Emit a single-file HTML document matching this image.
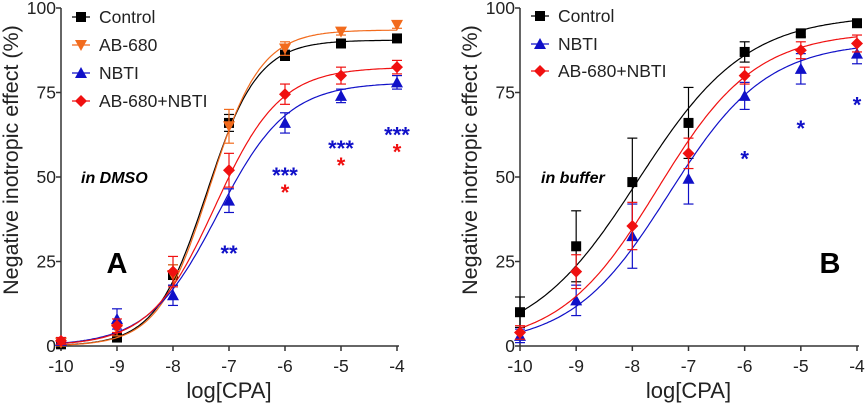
<!DOCTYPE html>
<html><head><meta charset="utf-8"><style>
html,body{margin:0;padding:0;background:#fff}
svg{display:block;font-family:"Liberation Sans",Arial,sans-serif}
</style></head><body>
<svg id="chart" width="865" height="405" viewBox="0 0 865 405"></svg>
<script>
const xTicks=[-10,-9,-8,-7,-6,-5,-4];
const yTicks=[0,25,50,75,100];
const doses=[-10,-9,-8,-7,-6,-5,-4];
// Panel A
const aControl=[0.5,2.5,21,66,86,89.5,91];
const aControlErr=[1,1,3,2.5,1.5,1,1];
const aAB=[1,5,21,65,88,93,95];
const aABErr=[1,2,3,5,2,1,1];
const aNBTI=[1.5,8,15,43,66,74,78];
const aNBTIErr=[1,3,3,3.5,3,2,2];
const aCombo=[1.5,6,22,52,74.5,80,82.5];
const aComboErr=[1,2,4.5,5,3,2.5,2];
// fit params: [top, logEC50, hill]
const aFitControl=[90.5,-7.4,0.95];
const aFitAB=[93.5,-7.35,0.95];
const aFitNBTI=[78,-7.2,0.7];
const aFitCombo=[82.5,-7.25,0.75];
// Panel B
const bControl=[10,29.5,48.5,66,87,92.5,95.5];
const bControlErr=[4.5,10.5,13,10.5,3,1,1];
const bNBTI=[3,13.5,32.5,49.5,74,82,86.5];
const bNBTIErr=[2,4.5,9.5,7.5,4,4.5,3];
const bCombo=[4,22,35.5,57,80,87.5,89.5];
const bComboErr=[2,5,7,4.5,2.5,2.5,2.5];
const bFitControl=[98,-7.9,0.45];
const bFitNBTI=[90,-7.35,0.5];
const bFitCombo=[93,-7.55,0.5];
// significance marks
const aStarX=[-7,-6,-5,-4];
const aStarBlue=["**","***","***","***"];
const aStarBlueY=[29,52,60,64];
const aStarRed=["","*","*","*"];
const aStarRedY=[0,47,55,59];
const bStarX=[-6,-5,-4];
const bStarBlueY=[57,66,73];

const NS="http://www.w3.org/2000/svg";
const svg=document.getElementById('chart');
function mk(tag,attrs,parent){const e=document.createElementNS(NS,tag);for(const k in attrs)e.setAttribute(k,attrs[k]);(parent||svg).appendChild(e);return e;}

function panel(x0,x1,name){
  const y0=346,y1=8;
  const sx=v=>x0+(v+10)/6*(x1-x0);
  const sy=v=>y0-v/100*(y0-y1);
  const g=mk('g',{});
  
  
  const ax=mk('line',{x1:x0,y1:y1,x2:x0,y2:y0,stroke:'#333','stroke-width':1.5},g);
  
  const bx=mk('line',{x1:x0,y1:y0,x2:x1+2,y2:y0,stroke:'#333','stroke-width':1.5},g);
  
  yTicks.forEach(t=>{
    mk('line',{x1:x0-5,x2:x0,y1:sy(t),y2:sy(t),stroke:'#333','stroke-width':1.5},g);
    const tx=mk('text',{x:x0-5,y:sy(t)+6,'text-anchor':'end','font-size':17.5,fill:'#222'},g);
    tx.textContent=t;
    
  });
  xTicks.forEach(t=>{
    mk('line',{x1:sx(t),x2:sx(t),y1:y0,y2:y0+5,stroke:'#333','stroke-width':1.5},g);
    const tx=mk('text',{x:sx(t),y:372,'text-anchor':'middle','font-size':17.5,fill:'#222'},g);
    tx.textContent=t;
    
  });
  const xl=mk('text',{x:(x0+x1)/2,y:398,'text-anchor':'middle','font-size':22,fill:'#222'},g);
  xl.textContent='log[CPA]';
  
  const cy=160, cx=x0-43;
  const yl=mk('text',{x:cx,y:cy,'text-anchor':'middle','font-size':21.5,fill:'#222',transform:`rotate(-90 ${cx} ${cy})`},g);
  yl.textContent='Negative inotropic effect (%)';
  
  return {g,sx,sy};
}
function marker(g,shape,x,y,color){
  let e;
  if(shape==='square')e=mk('rect',{x:x-5,y:y-5,width:10,height:10,fill:color},g);
  else if(shape==='down')e=mk('polygon',{points:`${x-6},${y-5} ${x+6},${y-5} ${x},${y+6}`,fill:color},g);
  else if(shape==='up')e=mk('polygon',{points:`${x-6},${y+5} ${x+6},${y+5} ${x},${y-6}`,fill:color},g);
  else e=mk('polygon',{points:`${x},${y-6} ${x+6},${y} ${x},${y+6} ${x-6},${y}`,fill:color},g);
  return e;
}
function series(P,vals,errs,fit,shape,color,name){
  const g=mk('g',{},P.g);
  
  
  let d='';
  for(let i=0;i<=200;i++){const x=-10+6*i/200;const y=fit[0]/(1+Math.pow(10,fit[2]*(fit[1]-x)));d+=(i?'L':'M')+P.sx(x).toFixed(1)+' '+P.sy(y).toFixed(1);}
  const c=mk('path',{d:d,fill:'none',stroke:color,'stroke-width':1.2},g);
  
  doses.forEach((x,i)=>{
    const px=P.sx(x),a=P.sy(vals[i]+errs[i]),b=P.sy(vals[i]-errs[i]);
    mk('line',{x1:px,x2:px,y1:a,y2:b,stroke:color,'stroke-width':1.2},g);
    mk('line',{x1:px-5,x2:px+5,y1:a,y2:a,stroke:color,'stroke-width':1.2},g);
    mk('line',{x1:px-5,x2:px+5,y1:b,y2:b,stroke:color,'stroke-width':1.2},g);
    const m=marker(g,shape,px,P.sy(vals[i]),color);
    
  });
}
function legend(g,x,y,shape,color,label){
  const lg=mk('g',{},g);
  
  
  mk('line',{x1:x-9,x2:x+9,y1:y,y2:y,stroke:color,'stroke-width':1.2},lg);
  marker(lg,shape,x,y,color);
  const t=mk('text',{x:x+18,y:y+6,'font-size':17.5,fill:'#222'},lg);t.textContent=label;
}
function txt(g,x,y,s,size,color,style,name,anchor){
  const t=mk('text',{x:x,y:y,'font-size':size,fill:color,'font-weight':'bold','font-style':style||'normal','text-anchor':anchor||'start'},g);
  t.textContent=s;
  
}
const BLK='#000',ORG='#f26b1d',BLU='#1010c8',RED='#f01010';
const A=panel(61,397,'panel-a');
series(A,aControl,aControlErr,aFitControl,'square',BLK,'control-series');
series(A,aAB,aABErr,aFitAB,'down',ORG,'ab680-series');
series(A,aNBTI,aNBTIErr,aFitNBTI,'up',BLU,'nbti-series');
series(A,aCombo,aComboErr,aFitCombo,'diamond',RED,'ab680-nbti-series');
legend(A.g,81,17,'square',BLK,'Control');
legend(A.g,81,45,'down',ORG,'AB-680');
legend(A.g,81,73,'up',BLU,'NBTI');
legend(A.g,81,101,'diamond',RED,'AB-680+NBTI');
txt(A.g,81,183,'in DMSO',16,'#000','italic','condition-label');
txt(A.g,117,273,'A',29,'#000','normal','panel-label','middle');
aStarX.forEach((x,i)=>{
  txt(A.g,A.sx(x),A.sy(aStarBlueY[i])+13,aStarBlue[i],22,BLU,'normal','significance-blue','middle');
  if(aStarRed[i])txt(A.g,A.sx(x),A.sy(aStarRedY[i])+13,aStarRed[i],22,RED,'normal','significance-red','middle');
});
const B=panel(520,857,'panel-b');
series(B,bControl,bControlErr,bFitControl,'square',BLK,'control-series');
series(B,bNBTI,bNBTIErr,bFitNBTI,'up',BLU,'nbti-series');
series(B,bCombo,bComboErr,bFitCombo,'diamond',RED,'ab680-nbti-series');
legend(B.g,540,16,'square',BLK,'Control');
legend(B.g,540,44,'up',BLU,'NBTI');
legend(B.g,540,71,'diamond',RED,'AB-680+NBTI');
txt(B.g,541,183,'in buffer',16,'#000','italic','condition-label');
txt(B.g,830,273,'B',29,'#000','normal','panel-label','middle');
bStarX.forEach((x,i)=>{
  txt(B.g,B.sx(x),B.sy(bStarBlueY[i])+13,'*',22,BLU,'normal','significance-blue','middle');
});
</script>
</body></html>
